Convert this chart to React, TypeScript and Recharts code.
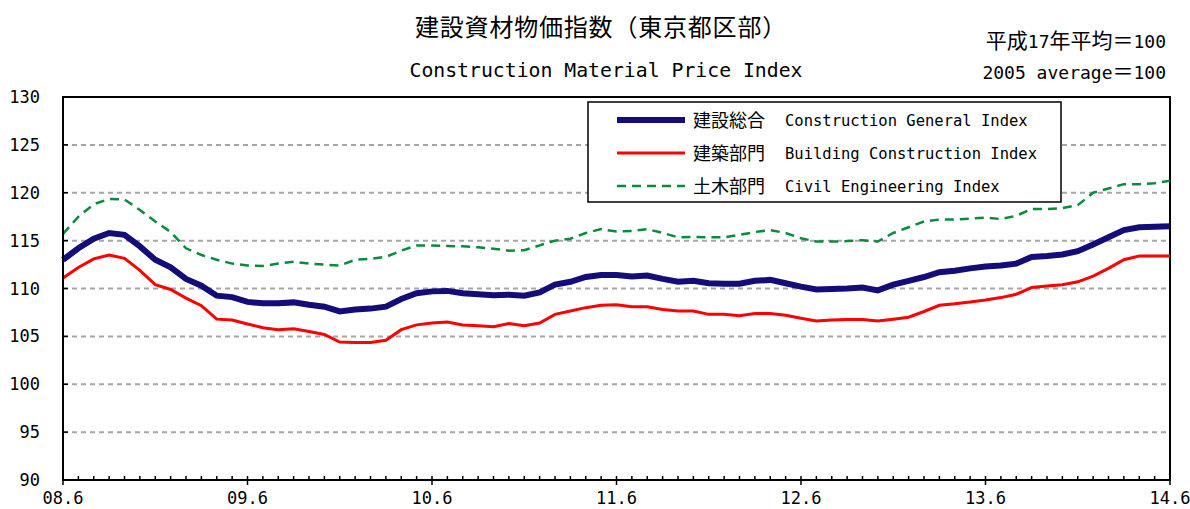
import { LineChart, Line, XAxis, YAxis, CartesianGrid, Legend, ReferenceArea } from "recharts";

const months = [
  "08.6", "08.7", "08.8", "08.9", "08.10", "08.11", "08.12",
  "09.1", "09.2", "09.3", "09.4", "09.5", "09.6", "09.7", "09.8", "09.9", "09.10", "09.11", "09.12",
  "10.1", "10.2", "10.3", "10.4", "10.5", "10.6", "10.7", "10.8", "10.9", "10.10", "10.11", "10.12",
  "11.1", "11.2", "11.3", "11.4", "11.5", "11.6", "11.7", "11.8", "11.9", "11.10", "11.11", "11.12",
  "12.1", "12.2", "12.3", "12.4", "12.5", "12.6", "12.7", "12.8", "12.9", "12.10", "12.11", "12.12",
  "13.1", "13.2", "13.3", "13.4", "13.5", "13.6", "13.7", "13.8", "13.9", "13.10", "13.11", "13.12",
  "14.1", "14.2", "14.3", "14.4", "14.5", "14.6",
];

// 建設総合
const general = [
  113.0, 114.2, 115.2, 115.8, 115.6, 114.4, 113.0, 112.2, 111.0, 110.3,
  109.25, 109.1, 108.6, 108.45, 108.45, 108.55, 108.3, 108.1, 107.6, 107.8,
  107.9, 108.1, 108.9, 109.5, 109.7, 109.75, 109.5, 109.4, 109.3, 109.35,
  109.25, 109.6, 110.4, 110.7, 111.2, 111.4, 111.4, 111.25, 111.35, 111.0,
  110.7, 110.8, 110.55, 110.5, 110.5, 110.8, 110.9, 110.55, 110.2, 109.9,
  109.95, 110.0, 110.1, 109.8, 110.4, 110.8, 111.2, 111.7, 111.85, 112.1,
  112.3, 112.4, 112.6, 113.3, 113.4, 113.55, 113.9, 114.6, 115.35, 116.1,
  116.4, 116.45, 116.5,
];

// 建築部門
const building = [
  111.1, 112.2, 113.1, 113.5, 113.15, 111.9, 110.4, 109.9, 109.0, 108.2,
  106.8, 106.7, 106.3, 105.9, 105.7, 105.8, 105.5, 105.2, 104.4, 104.35,
  104.35, 104.6, 105.7, 106.2, 106.4, 106.5, 106.2, 106.1, 106.0, 106.35,
  106.1, 106.4, 107.3, 107.65, 108.0, 108.25, 108.3, 108.1, 108.1, 107.8,
  107.65, 107.65, 107.3, 107.3, 107.15, 107.4, 107.4, 107.2, 106.9, 106.6,
  106.7, 106.75, 106.75, 106.6, 106.8, 107.0, 107.6, 108.25, 108.4, 108.6,
  108.8, 109.05, 109.4, 110.1, 110.25, 110.4, 110.7, 111.3, 112.1, 113.0,
  113.4, 113.4, 113.4,
];

// 土木部門
const civil = [
  115.7, 117.5, 118.8, 119.35, 119.3, 118.2, 117.0, 115.9, 114.2, 113.5,
  113.0, 112.6, 112.4, 112.35, 112.6, 112.8, 112.6, 112.5, 112.4, 113.0,
  113.1, 113.3, 113.95, 114.5, 114.5, 114.45, 114.4, 114.3, 114.15, 113.95,
  114.0, 114.5, 115.0, 115.2, 115.8, 116.2, 115.95, 116.0, 116.2, 115.8,
  115.35, 115.4, 115.35, 115.35, 115.6, 115.9, 116.1, 115.8, 115.25, 114.9,
  114.9, 114.95, 115.05, 114.9, 115.8, 116.4, 117.0, 117.2, 117.2, 117.3,
  117.4, 117.25, 117.6, 118.3, 118.3, 118.4, 118.7, 120.0, 120.45, 120.9,
  120.9, 121.0, 121.25,
];

const yTicks = [90, 95, 100, 105, 110, 115, 120, 125, 130];

const series = [
  { key: "general", jp: "建設総合", en: "Construction General Index", color: "#140c78", width: 6, dash: undefined },
  { key: "building", jp: "建築部門", en: "Building Construction Index", color: "#ff0000", width: 3, dash: undefined },
  { key: "civil", jp: "土木部門", en: "Civil Engineering Index", color: "#0a8a3c", width: 2.5, dash: "9 6" },
];

const data = months.map((m, i) => ({
  month: m,
  general: general[i],
  building: building[i],
  civil: civil[i],
}));

const NUM_FONT = "'DejaVu Sans Mono', monospace";
const JP_FONT = "'Noto Sans CJK JP', sans-serif";

function XTick(props: any) {
  const { x, y, payload } = props;
  const major = String(payload.value).endsWith(".6");
  return (
    <g>
      <line x1={x} x2={x} y1={y - 4} y2={major ? y + 5 : y} stroke="#000" strokeWidth={1.5} />
      {major && (
        <text x={x} y={y + 24} textAnchor="middle" fontFamily={NUM_FONT} fontSize={17} fill="#000">
          {payload.value}
        </text>
      )}
    </g>
  );
}

function YTick(props: any) {
  const { x, y, payload } = props;
  return (
    <g>
      <line x1={x} x2={x + 5} y1={y} y2={y} stroke="#000" strokeWidth={1.5} />
      <text x={x - 23} y={y + 6} textAnchor="end" fontFamily={NUM_FONT} fontSize={17} fill="#000">
        {payload.value}
      </text>
    </g>
  );
}

function LegendBox() {
  return (
    <svg width={475} height={102}>
      <rect x={1} y={1} width={473} height={100} fill="#fff" stroke="#000" strokeWidth={1.5} />
      {series.map((s, i) => {
        const cy = 19 + i * 33;
        return (
          <g key={s.key}>
            <line x1={30} x2={98} y1={cy} y2={cy} stroke={s.color} strokeWidth={s.width} strokeDasharray={s.dash} />
            <text x={106} y={cy + 7} fontFamily={JP_FONT} fontSize={18} fill="#000">{s.jp}</text>
            <text x={198} y={cy + 6} fontFamily={NUM_FONT} fontSize={15.5} fill="#000">{s.en}</text>
          </g>
        );
      })}
    </svg>
  );
}

export default function App() {
  return (
    <div style={{ position: "absolute", left: 0, top: 0, width: 1190, height: 509, background: "#fff" }}>
      <LineChart width={1190} height={509} data={data} margin={{ top: 97, right: 20, left: 0, bottom: 0 }}>
        <CartesianGrid vertical={false} stroke="#a6a6a6" strokeDasharray="5 4" strokeWidth={2} />
        <XAxis
          dataKey="month"
          interval={0}
          tickSize={0}
          tickMargin={0}
          tickLine={false}
          height={29}
          axisLine={{ stroke: "#000", strokeWidth: 2 }}
          tick={<XTick />}
        />
        <YAxis
          domain={[90, 130]}
          ticks={yTicks}
          width={63}
          tickSize={0}
          tickMargin={0}
          tickLine={false}
          axisLine={{ stroke: "#000", strokeWidth: 2 }}
          tick={<YTick />}
        />
        <ReferenceArea
          x1={months[0]}
          x2={months[months.length - 1]}
          y1={90}
          y2={130}
          fill="none"
          fillOpacity={0}
          stroke="#000"
          strokeWidth={2}
          ifOverflow="visible"
        />
        <Legend
          layout="horizontal"
          verticalAlign="middle"
          align="center"
          wrapperStyle={{ left: 587, top: 101, width: 475, height: 102 }}
          content={() => <LegendBox />}
        />
        {series.map((s) => (
          <Line
            key={s.key}
            type="linear"
            dataKey={s.key}
            name={s.jp}
            stroke={s.color}
            strokeWidth={s.width}
            strokeDasharray={s.dash}
            dot={false}
            activeDot={false}
            isAnimationActive={false}
          />
        ))}
      </LineChart>
      <svg width={1190} height={95} style={{ position: "absolute", left: 0, top: 0, pointerEvents: "none" }}>
        <text x={601} y={36} textAnchor="middle" fontFamily={JP_FONT} fontSize={24} letterSpacing={0.8} fill="#000">
          建設資材物価指数（東京都区部）
        </text>
        <text x={606} y={77} textAnchor="middle" fontFamily={NUM_FONT} fontSize={19.8} fill="#000">
          Construction Material Price Index
        </text>
        <text x={1166} y={48} textAnchor="end" fontFamily={JP_FONT} fontSize={21} fill="#000">
          平成<tspan fontFamily={NUM_FONT} fontSize={18}>17</tspan>年平均＝<tspan fontFamily={NUM_FONT} fontSize={18}>100</tspan>
        </text>
        <text x={1166} y={79} textAnchor="end" fontFamily={NUM_FONT} fontSize={18} fill="#000">
          2005 average<tspan fontFamily={JP_FONT} fontSize={21}>＝</tspan>100
        </text>
      </svg>
    </div>
  );
}
